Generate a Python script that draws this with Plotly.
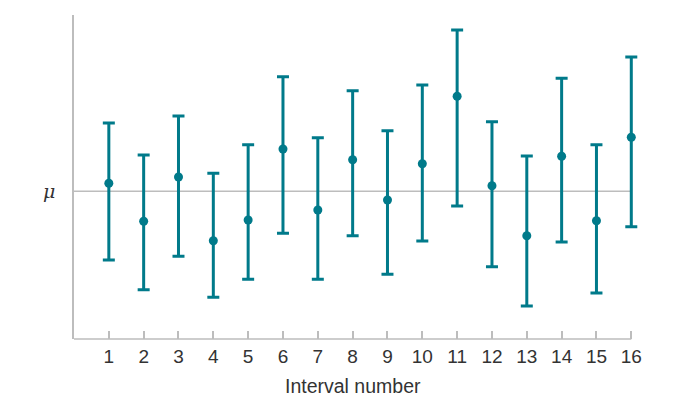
import plotly.graph_objects as go

interval = list(range(1, 17))
estimate = [0.8, -3.0, 1.43, -4.94, -2.87, 4.23, -1.87, 3.16, -0.87, 2.76, 9.5, 0.56, -4.44, 3.5, -2.94, 5.4]
upper = [6.83, 3.63, 7.53, 1.8, 4.66, 11.46, 5.36, 10.06, 6.06, 10.63, 16.13, 6.96, 3.53, 11.3, 4.66, 13.43]
lower = [-6.87, -9.84, -6.5, -10.6, -8.8, -4.2, -8.8, -4.44, -8.3, -4.97, -1.47, -7.54, -11.47, -5.07, -10.17, -3.54]
mu = 0.0
tick_labels = [str(i) for i in interval]
x_title = "Interval number"

TEAL = "#007A8A"
GRAY = "#BDBDBD"
x_max = interval[-1]

fig = go.Figure()
fig.add_trace(go.Scatter(
    x=interval, y=estimate, mode="markers", cliponaxis=False,
    marker=dict(color=TEAL, size=9),
    error_y=dict(type="data", symmetric=False,
                 array=[u - e for u, e in zip(upper, estimate)],
                 arrayminus=[e - l for e, l in zip(estimate, lower)],
                 color=TEAL, thickness=3, width=6),
    showlegend=False, hoverinfo="skip",
))
fig.add_shape(type="line", xref="x", yref="y", x0=0, x1=x_max, y0=mu, y1=mu,
              line=dict(color=GRAY, width=1.5), layer="below")
# bottom axis line ending at the last interval
fig.add_shape(type="line", xref="x", yref="paper", x0=0, x1=x_max, y0=0, y1=0,
              line=dict(color=GRAY, width=1.5), layer="below")
fig.add_annotation(x=0, y=mu, xref="x", yref="y", text="<i>μ</i>", showarrow=False,
                   xanchor="right", xshift=-17, font=dict(size=19, color="#333333", family="DejaVu Serif"))
# axis title centred under the axis line
fig.add_annotation(x=x_max / 2, y=0, xref="x", yref="paper", text=x_title, showarrow=False,
                   xanchor="center", yanchor="middle", yshift=-47,
                   font=dict(size=19.5, color="#333333"))

fig.update_layout(
    width=694, height=414,
    margin=dict(l=66, r=62, t=7, b=83),
    plot_bgcolor="white", paper_bgcolor="white",
    font=dict(family="Liberation Sans", color="#333333", size=19),
    xaxis=dict(range=[0, 16.25], tickvals=interval, ticktext=tick_labels,
               showline=False, ticks="inside", ticklabelstandoff=4,
               ticklen=8, tickcolor=GRAY, tickwidth=1.5, showgrid=False, zeroline=False,
               tickfont=dict(size=19)),
    yaxis=dict(range=[-14.77, 17.63], showline=True, linecolor=GRAY, linewidth=1.5,
               showticklabels=False, ticks="", showgrid=False, zeroline=False),
)
fig.write_html("out.html")
